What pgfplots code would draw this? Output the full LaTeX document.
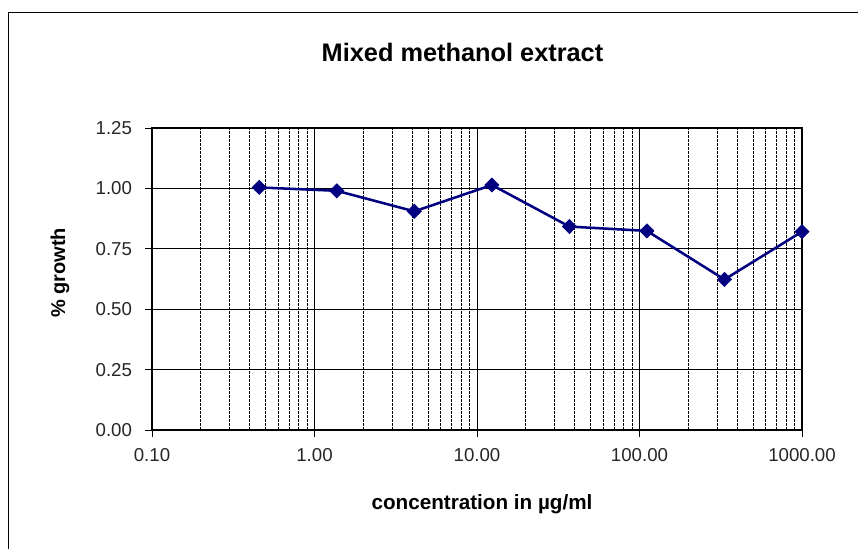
\documentclass[border=0pt]{standalone}
\usepackage{pgfplots}
\pgfplotsset{compat=1.18}
\usepackage{fontspec}
\setmainfont{Liberation Sans}
\definecolor{navyline}{RGB}{0,0,128}
\begin{document}
\begin{tikzpicture}
\useasboundingbox (-114pt,-89.25pt) rectangle (529.5pt,322.5pt);
\draw[line width=0.75pt] (-107.6pt,-100pt) -- (-107.6pt,313.1pt) -- (540pt,313.1pt);
\begin{axis}[
  at={(0pt,0pt)}, anchor=south west,
  scale only axis, width=487.5pt, height=226.5pt,
  xmode=log, xmin=0.1, xmax=1000, ymin=0, ymax=1.25,
  xtick={0.1,1,10,100,1000},
  xticklabels={0.10,1.00,10.00,100.00,1000.00},
  minor xtick={0.2,0.3,0.4,0.5,0.6,0.7,0.8,0.9,2,3,4,5,6,7,8,9,20,30,40,50,60,70,80,90,200,300,400,500,600,700,800,900},
  ytick={0,0.25,0.5,0.75,1,1.25},
  yticklabels={0.00,0.25,0.50,0.75,1.00,1.25},
  xtick pos=bottom, ytick pos=left,
  xmajorgrids, xminorgrids, ymajorgrids,
  major grid style={black, line width=0.6pt},
  minor grid style={black, line width=0.7pt, dash pattern=on 2pt off 1pt},
  tick align=outside, major tick length=5pt, minor tick length=0pt,
  tick style={black, line width=0.6pt},
  axis line style={black, line width=0.8pt},
  ticklabel style={font=\fontsize{14}{16}\selectfont, text=black!85},
  xticklabel style={yshift=-5pt},
  yticklabel style={xshift=-6.5pt},
  /pgf/number format/assume math mode=true,
  title={Mixed methanol extract},
  title style={font=\bfseries\fontsize{19}{22}\selectfont, at={(axis description cs:0.4777,1)}, anchor=center, yshift=51pt},
  xlabel={concentration in µg/ml},
  xlabel style={font=\bfseries\fontsize{15.5}{18}\selectfont, at={(axis description cs:0.5077,0)}, anchor=center, yshift=-56pt},
  ylabel={\% growth},
  ylabel style={font=\bfseries\fontsize{15}{18}\selectfont, at={(axis description cs:-0.1415,0.52)}, anchor=center},
]
\addplot[color=navyline, line width=1.9pt, mark=diamond*, mark size=5.3pt,
  mark options={solid, fill=navyline, line width=0.5pt, xscale=1.33}]
  coordinates {
  (0.457,1.004) (1.372,0.990) (4.115,0.905) (12.35,1.014)
  (37.04,0.842) (111.1,0.824) (333.3,0.623) (1000,0.821)
  };
\end{axis}
\end{tikzpicture}
\end{document}
